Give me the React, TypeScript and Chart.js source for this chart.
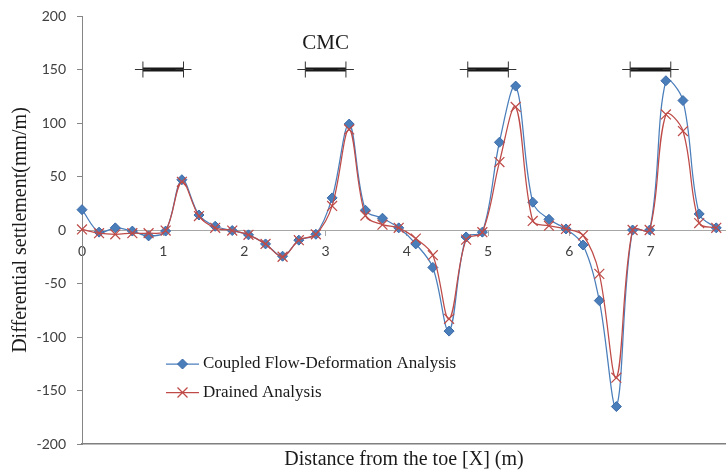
import React, { useEffect, useRef } from 'react';
import { Chart, registerables } from 'chart.js';

Chart.register(...registerables);

// ---- data ----
const distances = [
  0, 0.21, 0.41, 0.62, 0.82, 1.03, 1.23, 1.44, 1.64, 1.85,
  2.05, 2.26, 2.47, 2.67, 2.88, 3.08, 3.29, 3.49, 3.7, 3.9,
  4.11, 4.32, 4.52, 4.73, 4.93, 5.14, 5.34, 5.55, 5.75, 5.96,
  6.17, 6.37, 6.58, 6.78, 6.99, 7.19, 7.4, 7.6, 7.81,
];
const coupledFlow = [
  19, -2, 2, -1, -5.5, -1, 47, 14, 3.5, -0.5,
  -4.5, -13, -24.5, -9.5, -4, 30, 99, 18.5, 11, 2,
  -13, -35, -94.5, -6.5, -2, 82, 134.5, 26, 10, 1,
  -14, -66, -165, 0, 0, 139.5, 121, 15, 2,
];
const drained = [
  0.5, -3, -4, -3, -3, -0.5, 45, 13, 2, -0.5,
  -4.5, -13, -25, -9.5, -4, 22.5, 94, 13.5, 5, 2,
  -8, -23.5, -83, -9, -2, 63.5, 115, 8.5, 4, 1,
  -5, -41, -138, 0, 0, 108, 92.5, 6.5, 2,
];
const seriesLabels = ['Coupled Flow-Deformation Analysis', 'Drained Analysis'];
const cmcStart = [0.75, 2.75, 4.75, 6.75];
const cmcEnd = [1.25, 3.25, 5.25, 7.25];
const cmcLevel = 150;
const cmcLabel = 'CMC';
const cmcLabelX = 3;
const cmcLabelY = 174;
const xMin = 0;
const xMax = 7.93;
const xStep = 1;
const yMin = -200;
const yMax = 200;
const yStep = 50;
const xTitle = 'Distance from the toe [X] (m)';
const yTitle = 'Differential settlement(mm/m)';

// ---- styles ----
const W = 726;
const H = 472;
const BLUE = '#4A7EBB';
const BLUE_DARK = '#3A69A6';
const RED = '#BE4B48';
const SERIF = '"Liberation Serif", "Times New Roman", serif';
const SANS = 'Lato, "Liberation Sans", sans-serif';
const TEXT = '#1a1a1a';

const legendPlugin = {
  id: 'insideLegend',
  afterDraw(chart: any) {
    const ctx = chart.ctx as CanvasRenderingContext2D;
    const rows = [
      { y: 364, color: BLUE, kind: 'diamond', text: seriesLabels[0] },
      { y: 392.5, color: RED, kind: 'x', text: seriesLabels[1] },
    ];
    ctx.save();
    for (const r of rows) {
      ctx.strokeStyle = r.color;
      ctx.lineWidth = 1.25;
      ctx.beginPath();
      ctx.moveTo(166, r.y);
      ctx.lineTo(199, r.y);
      ctx.stroke();
      const cx = 182.5;
      if (r.kind === 'diamond') {
        const s = 5;
        ctx.fillStyle = BLUE;
        ctx.strokeStyle = BLUE_DARK;
        ctx.lineWidth = 1;
        ctx.beginPath();
        ctx.moveTo(cx, r.y - s);
        ctx.lineTo(cx + s, r.y);
        ctx.lineTo(cx, r.y + s);
        ctx.lineTo(cx - s, r.y);
        ctx.closePath();
        ctx.fill();
        ctx.stroke();
      } else {
        const s = 5;
        ctx.strokeStyle = RED;
        ctx.lineWidth = 1.25;
        ctx.beginPath();
        ctx.moveTo(cx - s, r.y - s);
        ctx.lineTo(cx + s, r.y + s);
        ctx.moveTo(cx + s, r.y - s);
        ctx.lineTo(cx - s, r.y + s);
        ctx.stroke();
      }
      ctx.fillStyle = TEXT;
      ctx.font = `17px ${SERIF}`;
      ctx.textAlign = 'left';
      ctx.textBaseline = 'middle';
      ctx.fillText(r.text, 203, r.y);
    }
    ctx.restore();
  },
};

const cmcLabelPlugin = {
  id: 'cmcLabel',
  afterDatasetsDraw(chart: any) {
    const ctx = chart.ctx as CanvasRenderingContext2D;
    const x = chart.scales.x.getPixelForValue(cmcLabelX);
    const y = chart.scales.y.getPixelForValue(cmcLabelY);
    ctx.save();
    ctx.fillStyle = TEXT;
    ctx.font = `21px ${SERIF}`;
    ctx.textAlign = 'center';
    ctx.textBaseline = 'middle';
    ctx.fillText(cmcLabel, x, y);
    ctx.restore();
  },
};

const noPad = (s: any) => {
  s.paddingLeft = 0;
  s.paddingRight = 0;
  s.paddingTop = 0;
  s.paddingBottom = 0;
};

export default function App() {
  const ref = useRef<HTMLCanvasElement | null>(null);

  useEffect(() => {
    if (!ref.current) return;
    const cmcSets = cmcStart.map((s, i) => ({
      label: cmcLabel,
      data: [
        { x: s, y: cmcLevel },
        { x: cmcEnd[i], y: cmcLevel },
      ],
      borderColor: '#1a1a1a',
      borderWidth: 4,
      pointStyle: 'cross',
      pointRadius: 8,
      pointBorderColor: '#333333',
      pointBorderWidth: 1,
      tension: 0,
      clip: false,
      order: 0,
    }));

    const chart = new Chart(ref.current, {
      type: 'line',
      data: {
        datasets: [
          {
            label: seriesLabels[0],
            data: distances.map((x, i) => ({ x, y: coupledFlow[i] })),
            borderColor: BLUE,
            backgroundColor: BLUE,
            borderWidth: 1.25,
            pointStyle: 'rectRot',
            pointRadius: 5,
            pointBackgroundColor: BLUE,
            pointBorderColor: BLUE_DARK,
            pointBorderWidth: 1,
            tension: 0.35,
            clip: false,
            order: 2,
          },
          {
            label: seriesLabels[1],
            data: distances.map((x, i) => ({ x, y: drained[i] })),
            borderColor: RED,
            backgroundColor: RED,
            borderWidth: 1.25,
            pointStyle: 'crossRot',
            pointRadius: 7,
            pointBorderColor: RED,
            pointBorderWidth: 1.25,
            tension: 0.35,
            clip: false,
            order: 1,
          },
          ...cmcSets,
        ] as any,
      },
      options: {
        animation: false,
        responsive: false,
        maintainAspectRatio: false,
        layout: { autoPadding: false, padding: { top: 16, right: 0, left: 0, bottom: 0 } },
        plugins: {
          legend: { display: false },
          tooltip: { enabled: false },
        },
        scales: {
          x: {
            type: 'linear',
            min: xMin,
            max: xMax,
            position: { y: 0 } as any,
            afterFit: (s: any) => {
              s.height = 0;
              noPad(s);
            },
            grid: {
              drawOnChartArea: false,
              drawTicks: true,
              tickLength: 5,
              color: '#A6A6A6',
            },
            border: { display: true, color: '#A6A6A6', width: 1 },
            ticks: {
              stepSize: xStep,
              includeBounds: false,
              maxRotation: 0,
              autoSkip: false,
              padding: 8,
              color: '#404040',
              font: { family: SANS, size: 14 },
            },
          },
          x2: {
            type: 'linear',
            axis: 'x',
            min: xMin,
            max: xMax,
            position: 'bottom',
            afterFit: (s: any) => {
              s.height = 28;
              noPad(s);
            },
            grid: { display: false, drawTicks: false },
            border: { display: true, color: '#7F7F7F', width: 1.5 },
            ticks: { display: false },
            title: {
              display: true,
              text: xTitle,
              color: TEXT,
              font: { family: SERIF, size: 20 },
              padding: { top: 0, bottom: 0 },
            },
          },
          y: {
            type: 'linear',
            min: yMin,
            max: yMax,
            position: 'left',
            afterFit: (s: any) => {
              s.width = 82;
              noPad(s);
            },
            grid: {
              drawOnChartArea: false,
              drawTicks: true,
              tickLength: 5,
              color: '#868686',
            },
            border: { display: true, color: '#868686', width: 1 },
            ticks: {
              stepSize: yStep,
              padding: 11,
              color: '#404040',
              font: { family: SANS, size: 14 },
            },
            title: {
              display: true,
              text: yTitle,
              color: TEXT,
              font: { family: SERIF, size: 20 },
              padding: { top: 9, bottom: 0 },
            },
          },
        } as any,
      },
      plugins: [legendPlugin, cmcLabelPlugin],
    });
    return () => chart.destroy();
  }, []);

  return (
    <div style={{ position: 'fixed', left: 0, top: 0, width: W, height: H, background: '#fff' }}>
      <canvas ref={ref} width={W} height={H} style={{ width: W, height: H, display: 'block' }} />
    </div>
  );
}
